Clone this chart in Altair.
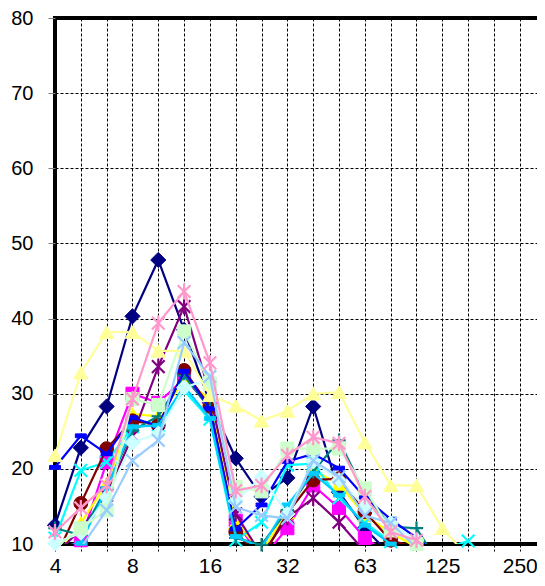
import altair as alt
import pandas as pd

categories = ["4", "5", "6.3", "8", "10", "12.5", "16", "20", "25", "31.5",
              "40", "50", "63", "80", "100", "125", "160", "200", "250"]
tick_labels = ["4", "", "", "8", "", "", "16", "", "", "32", "", "", "63",
               "", "", "125", "", "", "250"]
y_ticks = [10, 20, 30, 40, 50, 60, 70, 80]

N = None
s01 = [12.5, 22.8, 28.3, 40.3, 47.8, 38.5, 28.8, 21.4, 16.3, 18.8, 28.3, 16.9, 12.1, 8.5, N, N, N, N, N]
s02 = [8.5, 10.5, 20.9, 30.0, 28.8, 32.0, 28.5, 13.1, 8.0, 12.1, 17.8, 14.8, 10.8, 8.5, N, N, N, N, N]
s03 = [8.0, 12.8, 18.0, 27.3, 27.0, 31.7, 29.3, 12.8, 9.0, 14.2, 19.8, 18.0, 13.8, 11.5, 9.6, 7.5, N, N, N]
s04 = [10.8, 19.8, 20.9, 25.6, 25.8, 30.4, 26.6, 10.5, 12.9, 20.5, 20.7, 16.1, 12.8, 10.3, 8.5, 9.3, 10.4, 7.0, N]
s05 = [8.5, 12.0, 16.5, 24.4, 33.6, 41.6, 30.0, 14.0, 8.5, 13.5, 16.1, 12.9, 9.0, N, N, N, N, N, N]
s06 = [8.0, 15.4, 22.7, 26.4, 25.8, 33.1, 28.3, 11.6, 8.0, 14.1, 18.5, 18.7, 14.3, 10.5, 9.5, N, N, N, N]
s07 = [12.1, 11.2, 17.5, 25.1, 27.0, 32.4, 28.0, 10.8, 9.9, 14.5, 19.6, 23.8, 16.7, 12.3, 12.1, 6.6, N, N, N]
s08 = [20.2, 24.4, 22.0, 26.8, 25.7, 33.0, 28.0, 12.0, 15.2, 21.0, 22.0, 20.1, 16.2, 13.3, 10.8, 8.0, N, N, N]
s09 = [9.5, 10.1, 17.4, 25.6, 25.8, 31.0, 26.7, 11.0, 9.5, 15.2, 19.4, 16.5, 12.5, 10.0, 8.5, N, N, N, N]
s10 = [10.1, 11.5, 16.2, 23.5, 24.7, 30.8, 32.0, 15.7, 18.9, 14.0, 21.0, 18.5, 15.0, 12.8, 10.5, 8.0, N, N, N]
s11 = [9.5, 12.1, 14.5, 29.3, 28.5, 38.3, 31.3, 17.6, 17.0, 22.7, 22.7, 22.7, 17.4, 11.8, 10.0, 8.0, N, N, N]
s12 = [21.8, 32.8, 38.2, 38.2, 35.7, 35.7, 29.8, 28.4, 26.4, 27.7, 30.0, 30.2, 23.5, 17.8, 17.8, 12.1, 8.3, N, N]
s13 = [7.5, 9.5, 14.5, 21.1, 23.8, 36.8, 32.3, 14.9, 13.8, 13.4, 21.1, 18.9, 13.8, 12.8, 9.5, N, N, N, N]
s14 = [11.6, 14.8, 17.8, 29.3, 39.4, 43.6, 34.1, 17.1, 17.8, 21.8, 24.2, 23.4, 16.3, 11.6, 10.5, 8.0, N, N, N]

series_values = [s01, s02, s03, s04, s05, s06, s07, s08, s09, s10, s11, s12, s13, s14]
series_names = ["S%d" % (i + 1) for i in range(len(series_values))]
series_colors = ["#000080", "#FF00FF", "#FFFF00", "#00FFFF", "#800080", "#800000",
                 "#008080", "#0000FF", "#00CCFF", "#CCFFFF", "#CCFFCC", "#FFFF99",
                 "#99CCFF", "#FF99CC"]
series_markers = ["diamond", "square", "triangle", "x", "star", "circle", "plus",
                  "dash", "dash", "diamond", "square", "triangle", "x", "star"]

marker_shapes = {
    "diamond": ("diamond", True, 230),
    "square": ("square", True, 170),
    "triangle": ("triangle-up", True, 210),
    "circle": ("circle", True, 190),
    "dash": ("M-1,-0.35L1,-0.35L1,0.35L-1,0.35Z", True, 120),
    "x": ("M-1,-1L1,1M-1,1L1,-1", False, 160),
    "star": ("M-1,-1L1,1M-1,1L1,-1M0,-1.25L0,1.25", False, 160),
    "plus": ("M-1,0L1,0M0,-1L0,1", False, 180),
}

rows = []
for name, vals in zip(series_names, series_values):
    for i, v in enumerate(vals):
        if v is not None:
            rows.append({"series": name, "idx": i, "cat": categories[i], "value": v})
df = pd.DataFrame(rows)

label_expr = "[" + ",".join("'%s'" % t for t in tick_labels) + "][datum.value]"

x_enc = alt.X("idx:Q",
              scale=alt.Scale(domain=[0, 18.9], nice=False, zero=False),
              axis=alt.Axis(values=list(range(len(categories))), labelExpr=label_expr,
                            title=None, domain=False, grid=True,
                            gridColor="#000000", gridDash=[3, 2], gridWidth=1, gridOpacity=1,
                            tickColor="#000000", tickDash=[3, 2], tickSize=7, tickWidth=1,
                            labelFontSize=21, labelFont="Liberation Sans", labelColor="#000000",
                            labelPadding=4, labelFlush=False, labelOverlap=False))
y_enc = alt.Y("value:Q",
              scale=alt.Scale(domain=[10, 80], nice=False, zero=False),
              axis=alt.Axis(values=y_ticks, title=None, domain=False, grid=True,
                            gridColor="#000000", gridDash=[3, 2], gridWidth=1, gridOpacity=1,
                            tickColor="#808080", tickSize=7, tickWidth=1,
                            labelFontSize=20, labelFont="Liberation Sans", labelColor="#000000",
                            labelPadding=15, labelFlush=False))

layers = []
for k, (name, color, marker) in enumerate(zip(series_names, series_colors, series_markers)):
    sub = alt.Chart(df).transform_filter(alt.datum.series == name)
    line = sub.mark_line(color=color, strokeWidth=2.2, clip=True).encode(x=x_enc, y=y_enc)
    shape, filled, size = marker_shapes[marker]
    if filled:
        pt = sub.transform_filter(alt.datum.value >= 9.7).mark_point(
            shape=shape, filled=True, color=color, size=size, opacity=1,
            stroke=color, strokeWidth=1)
    else:
        pt = sub.transform_filter(alt.datum.value >= 9.7).mark_point(
            shape=shape, filled=False, color=color, size=size, opacity=1, strokeWidth=2.2)
    pt = pt.encode(x=x_enc, y=y_enc)
    layers += [line, pt]

chart = alt.layer(*layers).properties(
    width=488, height=526,
    background="#ffffff",
    autosize=alt.AutoSizeParams(type="none"),
    padding={"left": 47, "top": 10, "right": -6, "bottom": 34},
).configure_view(stroke="#000000", strokeWidth=4, strokeOpacity=1)

chart.save("out.html", embed_options={"renderer": "svg", "actions": False})
